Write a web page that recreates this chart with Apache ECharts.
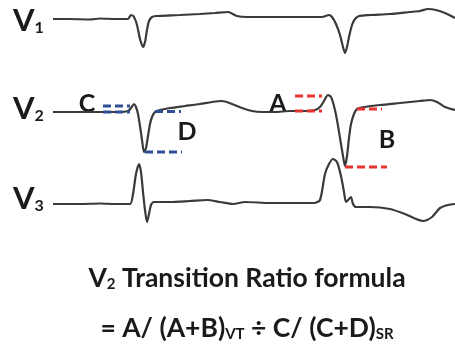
<!DOCTYPE html>
<html>
<head>
<meta charset="utf-8">
<script src="https://cdn.jsdelivr.net/npm/echarts@6/dist/echarts.min.js"></script>
<style>
  html, body { margin: 0; padding: 0; background: #fff; }
  #chart { width: 455px; height: 345px; }
</style>
</head>
<body>
<div id="chart"></div>
<script>
// time axis runs 0..455, amplitude axis 0..345 (up); each lead sits on its own baseline
const leadNames = ['1', '2', '3']
const leadBaselines = [326, 233, 141]

// [time, amplitude relative to baseline]
const v1Trace = [
  [53, 0], [70, 0], [90, -0.5], [100, 0.5], [115, 0], [128, 0], [131, 4], [134, 2], [137, -6],
  [140, -20], [143, -28], [145, -23], [147, -11], [149, -2], [152, 2], [156, 3], [180, 4],
  [200, 5], [215, 6], [228, 7], [237, 3], [247, 2], [270, 2], [300, 2], [322, 2], [329, 4],
  [332, 2], [336, -5], [340, -16], [343, -28], [345, -34], [347, -28], [349, -18], [352, -6],
  [355, 0], [359, 3], [370, 4], [390, 5], [410, 7], [420, 8], [428, 10], [436, 9], [445, 6], [455, 1]
]
const v2Trace = [
  [53, 0], [80, 0], [100, 0], [120, 0], [128, 1], [131, 4], [134, 8], [136, 5], [138, -2],
  [140, -14], [142, -28], [144, -40], [146, -36], [148, -24], [150, -12], [152, -5], [155, 0],
  [158, 1.5], [170, 4], [185, 6], [200, 8], [212, 10], [222, 11], [232, 8], [242, 4], [252, 1],
  [262, 0], [275, 0], [290, 1], [305, 1], [315, 2], [320, 5], [324, 11], [328, 17], [331, 15],
  [334, 6], [337, -8], [340, -26], [343, -44], [345, -54], [347, -44], [349, -26], [351, -12],
  [354, -2], [357, 3], [365, 5], [380, 7], [400, 9], [420, 11], [430, 12], [437, 10], [445, 5], [455, 2]
]
const v3Trace = [
  [53, 0], [80, 0], [100, 0.5], [115, 0], [130, 0], [133, 10], [136, 30], [139, 40], [141, 32],
  [143, 12], [145, -6], [147, -18], [149, -10], [151, -1], [154, 2], [170, 2], [190, 3], [207, 4],
  [220, 2], [233, 0], [245, 2], [270, 1], [300, 1], [314, 1], [320, 4], [325, 30], [329, 40],
  [333, 45], [337, 42], [341, 28], [344, 12], [346, 2], [349, 5], [351, 7], [353, 0], [356, -3],
  [370, -3], [390, -5], [405, -10], [423, -17], [432, -13], [440, -4], [448, -1], [455, 0]
]
const traces = [v1Trace, v2Trace, v3Trace]

// V2 measurement levels (amplitude) and their time spans
const sinusLevels = [[[103, 130], 6], [[103, 130], 0], [[155, 181], 0.5], [[145, 182], -40]]   // C, D
const vtLevels = [[[295, 322], 16], [[295, 322], 1], [[357, 382], 3], [[345, 387], -55]]     // A, B
const markLetters = ['C', 'D', 'A', 'B']

const chart = echarts.init(document.getElementById('chart'), null, { renderer: 'canvas' })

const shift = (pts, base) => pts.map(p => [p[0], base + p[1]])
const dashSeries = (levels, color) => levels.map(([span, amp]) => ({
  type: 'line',
  data: span.map(t => [t, leadBaselines[1] + amp]),
  symbol: 'none',
  silent: true,
  z: 3,
  lineStyle: { color, width: 3, type: [8, 4] }
}))

const ink = '#1a1a1a'
const font = 'Lato'
const sub = (size, pad) => ({ fontSize: size, fontWeight: 'bold', fontFamily: font, fill: ink, padding: [pad, 0, 0, 0] })

const leadLabels = leadNames.map((n, i) => ({
  type: 'text',
  x: 13,
  y: [21, 109, 199][i],
  style: {
    text: '{v|V}{s|' + n + '}',
    verticalAlign: 'middle',
    rich: { v: { fontSize: 31, fontWeight: 'bold', fontFamily: font, fill: ink }, s: sub(16, 14) }
  }
}))

const letterPos = [[87, 104], [187, 132], [278, 104], [387, 140]]
const letterLabels = markLetters.map((l, i) => ({
  type: 'text',
  x: letterPos[i][0],
  y: letterPos[i][1],
  style: { text: l, align: 'center', verticalAlign: 'middle', fontSize: 25, fontWeight: 'bold', fontFamily: font, fill: ink }
}))

chart.setOption({
  backgroundColor: '#fff',
  animation: false,
  grid: { left: 0, right: 0, top: 0, bottom: 0 },
  xAxis: { type: 'value', min: 0, max: 455, show: false },
  yAxis: { type: 'value', min: 0, max: 345, show: false },
  series: [
    ...traces.map((tr, i) => ({
      type: 'line',
      data: shift(tr, leadBaselines[i]),
      symbol: 'none',
      smooth: 0.25,
      z: 2,
      lineStyle: { color: '#3a3a3a', width: 2.2 }
    })),
    ...dashSeries(sinusLevels, '#2f4f94'),
    ...dashSeries(vtLevels, '#e8332e')
  ],
  graphic: [
    ...leadLabels,
    ...letterLabels,
    {
      type: 'text', x: 247, y: 278,
      style: {
        text: '{b|V}{s|2}{b| Transition Ratio formula}',
        align: 'center', verticalAlign: 'middle',
        rich: { b: { fontSize: 26.5, fontWeight: 'bold', fontFamily: font, fill: ink }, s: sub(15, 13) }
      }
    },
    {
      type: 'text', x: 247, y: 328,
      style: {
        text: '{b|= A/ (A+B)}{s|VT}{b| ÷ C/ (C+D)}{s|SR}',
        align: 'center', verticalAlign: 'middle',
        rich: { b: { fontSize: 26.5, fontWeight: 'bold', fontFamily: font, fill: ink }, s: sub(15, 13) }
      }
    }
  ]
})
</script>
</body>
</html>
